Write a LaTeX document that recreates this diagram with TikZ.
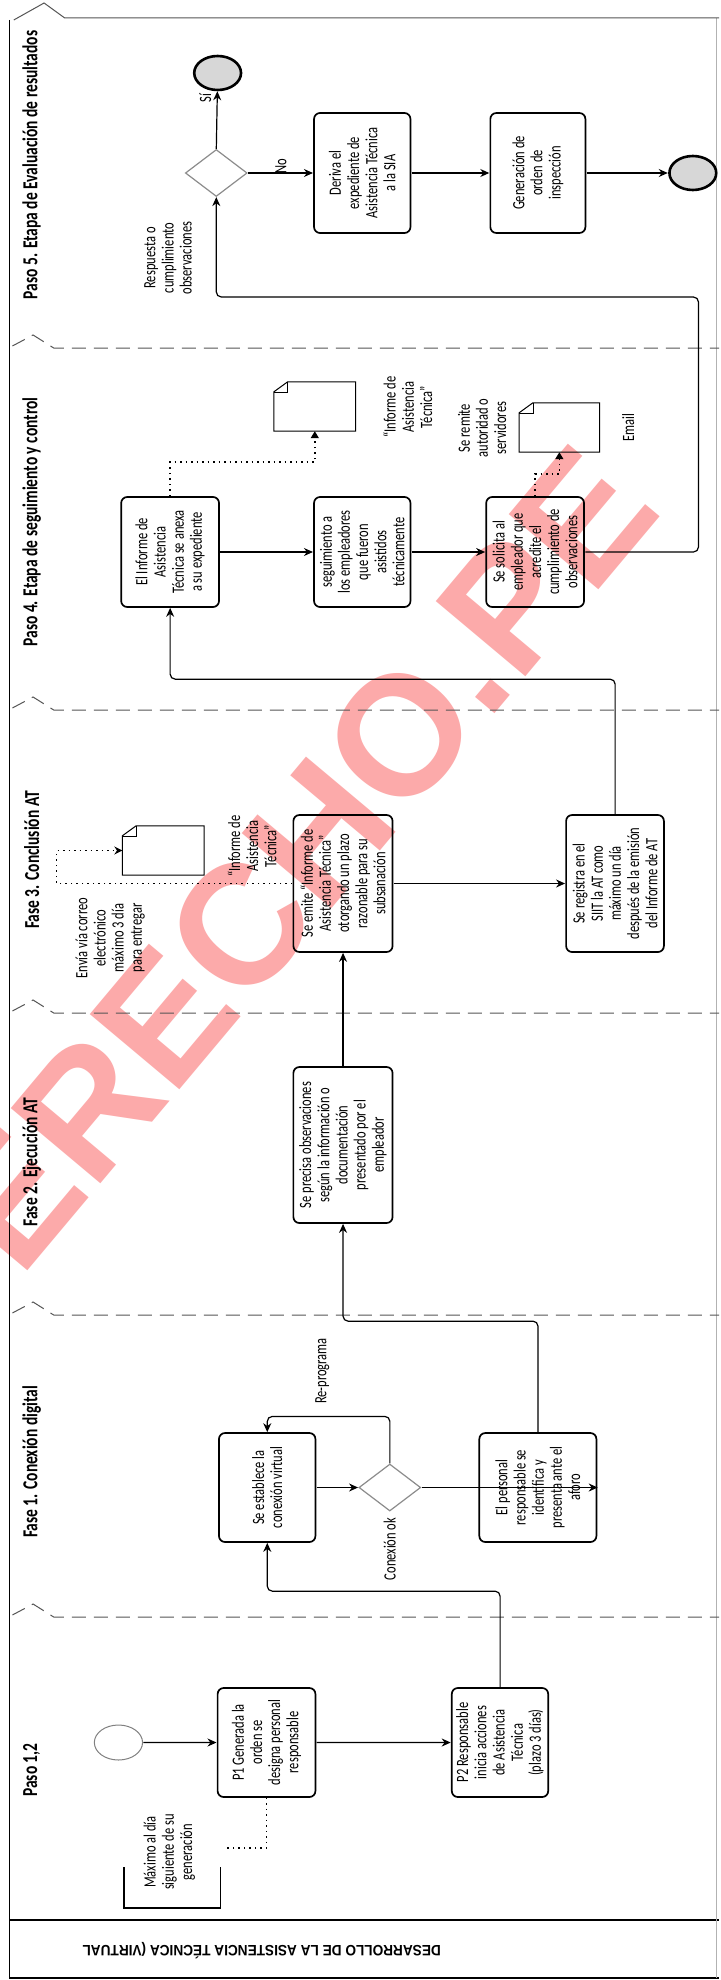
\documentclass[tikz,border=0pt]{standalone}
\usepackage{fontspec}
\setmainfont{Carlito}
\newfontfamily\titlefont{Liberation Sans}
\usetikzlibrary{arrows.meta,shapes.geometric,calc}
\definecolor{wm}{RGB}{252,170,170}
\definecolor{lanegray}{RGB}{85,85,85}
\definecolor{gwgray}{RGB}{140,140,140}
\definecolor{endfill}{RGB}{215,215,215}
\newcommand\mydoc[1]{%
  \draw[docline] ($(#1.north west)+(0,10)$) -- ($(#1.north west)+(10,0)$) -- (#1.north east) -- (#1.south east) -- (#1.south west) -- cycle;
  \draw[docline, line width=0.5pt] ($(#1.north west)+(0,10)$) -- ($(#1.north west)+(10,10)$) -- ($(#1.north west)+(10,0)$);}
\tikzset{
  task/.style={draw=black, line width=1.7pt, rounded corners=6pt, rotate=90, align=center, inner sep=0pt, font=\fontsize{12.5}{13.2}\selectfont},
  gateway/.style={diamond, draw=gwgray, line width=1.2pt, minimum width=45pt, minimum height=47pt, inner sep=0pt},
  startev/.style={circle, draw=gray, line width=1pt, minimum size=35pt, inner sep=0pt},
  endev/.style={circle, draw=black, line width=2.6pt, fill=endfill, minimum size=34pt, inner sep=0pt},
  flow/.style={draw=black, line width=1.2pt, rounded corners=5pt, -{Stealth[length=9pt,width=8pt]}},
  assoc/.style={draw=black, line width=1.5pt, dash pattern=on 1.5pt off 4pt, -{Triangle[length=7pt,width=8pt]}},
  assocnone/.style={draw=black, line width=1.5pt, dash pattern=on 1.5pt off 4pt},
  lbl/.style={rotate=90, align=center, font=\fontsize{12.5}{13.2}\selectfont, inner sep=0pt},
  lanelbl/.style={rotate=90, font=\fontsize{15.5}{17}\selectfont\bfseries, inner sep=0pt},
  lanesep/.style={draw=lanegray, line width=1pt, dash pattern=on 14pt off 8pt},
  docbox/.style={inner sep=0pt},
  docline/.style={draw=black, line width=1pt},
  border/.style={draw=black, line width=1.6pt},
}
\begin{document}
\begin{tikzpicture}[x=1pt,y=-1pt]
\useasboundingbox (0,0) rectangle (720,1980);
\fill[white] (0,0) rectangle (720,1980);
% watermark
\node[rotate=50, text=wm, font=\titlefont\bfseries\fontsize{170}{170}\selectfont, inner sep=0pt] (wmk) at (258,905) {DERECHO.PE};
\begin{scope}[xscale=1.3774, every node/.append style={transform shape}]
% pool frame
\draw[border] (7,20) -- (7,1978) -- (522,1978);
\draw[border] (7,1920) -- (522,1920);
\draw[draw=gray!60, line width=0.8pt] (520,18) -- (520,1978);
\draw[draw=lanegray, line width=1pt] (10,20) -- (32,3) -- (47,18) -- (522,18);
\foreach \yy in {348,710,1013,1315,1617}{
  \draw[lanesep] (9,\yy-2) -- (24,\yy-13) -- (39,\yy) -- (522,\yy);
}
\node[rotate=180, xscale=0.66, font=\titlefont\bfseries\fontsize{15}{17}\selectfont, inner sep=0pt] (title) at (190,1951) {DESARROLLO DE LA ASISTENCIA TÉCNICA (VIRTUAL};
% lane labels
\node[lanelbl] (l5) at (23,165) {Paso 5. Etapa de Evaluación de resultados};
\node[lanelbl] (l4) at (23,522) {Paso 4. Etapa de seguimiento y control};
\node[lanelbl] (l3) at (23,860) {Fase 3. Conclusión AT};
\node[lanelbl] (l2) at (23,1162) {Fase 2. Ejecución AT};
\node[lanelbl] (l1) at (23,1462) {Fase 1. Conexión digital};
\node[lanelbl] (l0) at (23,1770) {Paso 1,2};
% Paso 1,2
\node[startev] (start) at (86,1742.5) {};
\node[task, minimum width=109pt, minimum height=71pt] (P1) at (193.5,1742.5) {P1 Generada la\\orden se\\designa personal\\responsable};
\node[task, minimum width=109pt, minimum height=70pt] (P2) at (363,1742.5) {P2 Responsable\\inicia acciones\\de Asistencia\\Técnica\\(plazo 3 días)};
\draw[draw=black, line width=1.2pt] (90,1867) -- (90,1908) -- (160,1908) -- (160,1867);
\node[lbl] (ann) at (123,1852) {Máximo al día\\siguiente de su\\generación};
\coordinate (annR) at (163,1848);
% Fase 1
\node[task, minimum width=109pt, minimum height=70pt] (est) at (194,1487.5) {Se establece la\\conexión virtual};
\node[gateway] (gw1) at (283,1487.5) {};
\node[task, minimum width=109pt, minimum height=85pt] (pers) at (390.5,1487.5) {El personal\\responsable se\\identifica y\\presenta ante el\\aforo};
\node[lbl] (lok) at (283,1549) {Conexión ok};
\node[lbl] (lrep) at (234,1371) {Re-programa};
% Fase 2
\node[task, minimum width=156pt, minimum height=72pt] (prec) at (249,1145) {Se precisa observaciones\\según la información o\\documentación\\presentado por el\\empleador};
% Fase 3
\node[task, minimum width=137pt, minimum height=72pt] (emite) at (249,883.5) {Se emite “Informe de\\Asistencia Técnica”\\otorgando un plazo\\razonable para su\\subsanación};
\node[task, minimum width=137pt, minimum height=71pt] (reg) at (446.5,883.5) {Se registra en el\\SIIT la AT como\\máximo un día\\después de la emisión\\del Informe de AT};
\node[docbox, minimum width=59pt, minimum height=49pt] (doc3) at (118.5,850.5) {};
\mydoc{doc3}
\node[lbl] (inf3) at (183,846) {“Informe de\\Asistencia\\Técnica”};
\node[lbl] (envia) at (80,938) {Envía vía correo\\electrónico\\máximo 3 día\\para entregar};
% Paso 4
\node[task, minimum width=110pt, minimum height=71pt] (anexa) at (123.5,552) {El Informe de\\Asistencia\\Técnica se anexa\\a su expediente};
\node[task, minimum width=110pt, minimum height=70pt] (seg) at (263,552) {seguimiento a\\los empleadores\\que fueron\\asistidos\\técnicamente};
\node[task, minimum width=110pt, minimum height=71pt] (sol) at (388.5,552) {Se solicita al\\empleador que\\acredite el\\cumplimiento de\\observaciones};
\node[docbox, minimum width=59pt, minimum height=49pt] (doc4a) at (228.5,406.5) {};
\mydoc{doc4a}
\node[lbl] (inf4) at (296,407) {“Informe de\\Asistencia\\Técnica”};
\node[docbox, minimum width=58pt, minimum height=49pt] (doc4b) at (406,427.5) {};
\mydoc{doc4b}
\node[lbl] (remite) at (350,428) {Se remite\\autoridad o\\servidores};
\node[lbl] (email) at (456,428) {Email};
% Paso 5
\node[gateway] (gw5) at (157,173) {};
\node[endev] (end1) at (158,73) {};
\node[task, minimum width=120pt, minimum height=70pt] (deriva) at (263,173) {Deriva el\\expediente de\\Asistencia Técnica\\a la SIA};
\node[task, minimum width=120pt, minimum height=69pt] (gen) at (390.5,173) {Generación de\\orden de\\inspección};
\node[endev] (end2) at (503,173) {};
\node[lbl] (resp) at (122,258) {Respuesta o\\cumplimiento\\observaciones};
\node[lbl] (si) at (149,98) {Sí};
\node[lbl] (no) at (204,166) {No};
\coordinate (c1) at (507,297);
% connectors
\draw[flow] (start) -- (P1);
\draw[flow] (P1) -- (P2);
\draw[assocnone] (P1.west) |- (annR);
\draw[flow] (P2.east) -- ++(0,-96) -| (est.west);
\draw[flow] (est.south) -- (gw1.west);
\draw[flow] (gw1.east) -- (pers.south);
\draw[flow] (gw1.north) -- ++(0,-47) -| (est.east);
\draw[flow] (pers.east) -- ++(0,-111) -| (prec.west);
\draw[flow] (prec.east) -- (emite.west);
\draw[flow] (emite.south) -- (reg.north);
\draw[assoc, -{Stealth[length=8pt,width=8pt]}] (emite.north) -- ++(-171,0) |- (doc3.west);
\draw[flow] (reg.east) -- ++(0,-135) -| (anexa.west);
\draw[flow] (anexa.south) -- (seg.north);
\draw[flow] (seg.south) -- (sol.north);
\draw[assoc] (anexa.east) -- ++(0,-34) -| (doc4a.south);
\draw[assoc] (sol.east) -- ++(0,-22) -| (doc4b.south);
\draw[flow] (sol.south) -| (c1) -| (gw5.south);
\draw[flow] (gw5.north) -- (end1);
\draw[flow] (gw5.east) -- (deriva.north);
\draw[flow] (deriva.south) -- (gen.north);
\draw[flow] (gen.south) -- (end2);
\end{scope}
\end{tikzpicture}
\end{document}
